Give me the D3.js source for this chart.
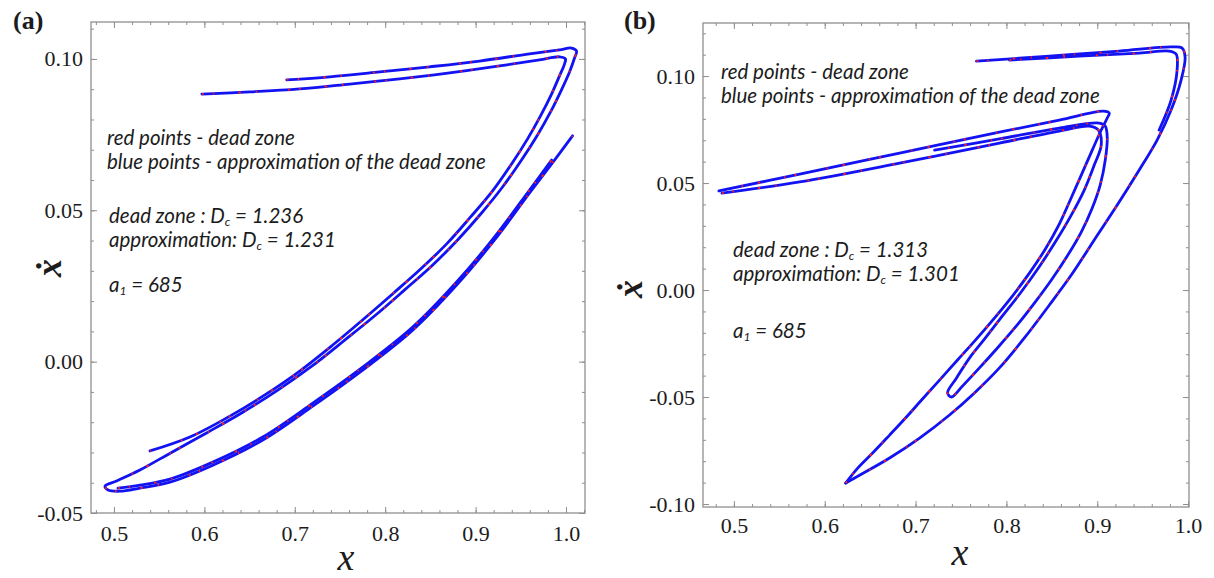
<!DOCTYPE html>
<html>
<head>
<meta charset="utf-8">
<script src="https://cdn.jsdelivr.net/npm/d3@7"></script>
<style>
  body { margin: 0; background: #fff; }
  svg text { fill: #1c1c1c; }
  .tick text { font-family: 'Liberation Serif', serif; font-size: 22px; fill: #1c1c1c; }
  .note { font-family: Lato, sans-serif; font-style: italic; font-size: 20.5px; }
</style>
</head>
<body>
<svg id="chart" width="1214" height="578"></svg>
<script>
// ---------------------------------------------------------------------------
// Data (x, xdot)
// ---------------------------------------------------------------------------

const xTicks = [0.5, 0.6, 0.7, 0.8, 0.9, 1.0];
const yTicksA = [-0.05, 0.00, 0.05, 0.10];
const yTicksB = [-0.10, -0.05, 0.00, 0.05, 0.10];

// panel (a): outer strand, top branch -> fold -> lower branch
const stripA1 = [
  [0.6912, 0.0931], [0.7387, 0.0941], [0.7939, 0.0957], [0.8492, 0.0974], [0.9044, 0.0993],
  [0.9597, 0.1017], [0.9928, 0.1030], [1.0061, 0.1036], [1.0116, 0.1026], [1.0094, 0.1003],
  [1.0039, 0.0957], [0.9950, 0.0898], [0.9829, 0.0825], [0.9685, 0.0749], [0.9508, 0.0666],
  [0.9298, 0.0577], [0.9066, 0.0491], [0.8801, 0.0402], [0.8514, 0.0316], [0.8215, 0.0237],
  [0.7895, 0.0154], [0.7552, 0.0071], [0.7188, -0.0015], [0.6812, -0.0094], [0.6425, -0.0167],
  [0.6039, -0.0233], [0.5641, -0.0299], [0.5287, -0.0358], [0.5022, -0.0395], [0.4901, -0.0411],
  [0.4934, -0.0424], [0.5066, -0.0428], [0.5287, -0.0418], [0.5619, -0.0398], [0.6094, -0.0342],
  [0.6646, -0.0259], [0.7199, -0.0147], [0.7751, -0.0028], [0.8304, 0.0104], [0.8790, 0.0253],
  [0.9210, 0.0402], [0.9597, 0.0557], [0.9873, 0.0666], [1.0072, 0.0746]
];
// panel (a): inner strand, top branch -> thin tail
const stripA2 = [
  [0.5972, 0.0884], [0.6503, 0.0891], [0.7055, 0.0901], [0.7608, 0.0917], [0.8160, 0.0934],
  [0.8713, 0.0954], [0.9265, 0.0977], [0.9707, 0.0997], [0.9928, 0.1007], [0.9994, 0.1000],
  [0.9983, 0.0983], [0.9928, 0.0944], [0.9840, 0.0884], [0.9718, 0.0812], [0.9575, 0.0736],
  [0.9398, 0.0653], [0.9188, 0.0564], [0.8945, 0.0478], [0.8680, 0.0389], [0.8392, 0.0306],
  [0.8094, 0.0227], [0.7762, 0.0141], [0.7420, 0.0055], [0.7055, -0.0031], [0.6669, -0.0110],
  [0.6282, -0.0180], [0.5840, -0.0249], [0.5398, -0.0295]
];
// panel (a): second layer along the lower branch
const stripA3 = [
  [0.5044, -0.0418], [0.5287, -0.0408], [0.5619, -0.0388], [0.6094, -0.0332], [0.6646, -0.0249],
  [0.7199, -0.0137], [0.7751, -0.0018], [0.8304, 0.0114], [0.8790, 0.0263], [0.9210, 0.0412],
  [0.9597, 0.0567], [0.9840, 0.0666]
];

// panel (b): top branch -> right descent -> lower side of the bottom fold
const stripB1 = [
  [0.7670, 0.1070], [0.8473, 0.1093], [0.9242, 0.1117], [0.9813, 0.1136], [0.9934, 0.1131],
  [0.9967, 0.1089], [0.9923, 0.0981], [0.9813, 0.0841], [0.9659, 0.0701], [0.9462, 0.0561],
  [0.9220, 0.0397], [0.8967, 0.0234], [0.8714, 0.0070], [0.8473, -0.0070], [0.8198, -0.0224],
  [0.7923, -0.0364], [0.7648, -0.0481], [0.7374, -0.0584], [0.7044, -0.0692], [0.6714, -0.0785],
  [0.6407, -0.0860], [0.6231, -0.0902]
];
// panel (b): second layer on the top branch / right descent
const stripB5 = [
  [0.8033, 0.1075], [0.8802, 0.1093], [0.9462, 0.1107], [0.9791, 0.1117], [0.9868, 0.1103],
  [0.9879, 0.1028], [0.9813, 0.0888], [0.9681, 0.0748]
];
// panel (b): bottom fold -> upper-left side -> middle branch (upper edge) to the left tip
const stripB2 = [
  [0.6231, -0.0902], [0.6363, -0.0832], [0.6538, -0.0757], [0.6714, -0.0678], [0.6879, -0.0603],
  [0.7066, -0.0514], [0.7264, -0.0421], [0.7462, -0.0327], [0.7659, -0.0234], [0.7868, -0.0131],
  [0.8066, -0.0028], [0.8253, 0.0079], [0.8429, 0.0192], [0.8582, 0.0308], [0.8703, 0.0421],
  [0.8824, 0.0537], [0.8945, 0.0654], [0.9044, 0.0748], [0.9110, 0.0804], [0.9132, 0.0827],
  [0.9066, 0.0836], [0.8582, 0.0794], [0.7923, 0.0738], [0.6824, 0.0640], [0.5725, 0.0542],
  [0.4835, 0.0463]
];
// panel (b): lower edge of the middle branch -> inner fold -> back up -> third layer
const stripB3 = [
  [0.4868, 0.0453], [0.5725, 0.0505], [0.6824, 0.0593], [0.7923, 0.0687], [0.8582, 0.0743],
  [0.8912, 0.0766], [0.9011, 0.0748], [0.9044, 0.0678], [0.8967, 0.0584], [0.8857, 0.0467],
  [0.8714, 0.0350], [0.8538, 0.0224], [0.8352, 0.0103], [0.8154, -0.0014], [0.7956, -0.0121],
  [0.7769, -0.0224], [0.7593, -0.0318], [0.7451, -0.0411], [0.7352, -0.0481], [0.7396, -0.0500],
  [0.7516, -0.0449], [0.7703, -0.0364], [0.7901, -0.0271], [0.8110, -0.0168], [0.8308, -0.0061],
  [0.8495, 0.0047], [0.8670, 0.0159], [0.8824, 0.0271], [0.8945, 0.0383], [0.9033, 0.0491],
  [0.9088, 0.0607], [0.9110, 0.0710], [0.9088, 0.0766], [0.9022, 0.0780], [0.8582, 0.0757],
  [0.7923, 0.0706], [0.7209, 0.0654]
];

// ---------------------------------------------------------------------------
// Config
// ---------------------------------------------------------------------------

const COLORS = {
  blue: '#1212f2',
  red: '#ff2020',
  frame: '#8f8f8f',
};

const panels = [
  {
    tag: '(a)', tagX: 13,
    box: { left: 91, top: 22, right: 585, bottom: 513 },
    xDomain: [0.4746, 1.021], yDomain: [-0.05, 0.1122],
    yTicks: yTicksA, xPad: 12,
    strips: [stripA1, stripA2, stripA3],
    yTitle: [50, 268], xTitle: [346, 570],
    notes: [
      { x: 107, y: 145, parts: [['red points - dead zone']] },
      { x: 107, y: 169, parts: [['blue points - approximation of the dead zone']] },
      { x: 109, y: 223, parts: [['dead zone : D'], ['c', 'sub'], [' = 1.236']] },
      { x: 109, y: 247, parts: [['approximation: D'], ['c', 'sub'], [' = 1.231']] },
      { x: 109, y: 292, parts: [['a'], ['1', 'sub'], [' = 685']] },
    ],
  },
  {
    tag: '(b)', tagX: 624,
    box: { left: 703, top: 23, right: 1189, bottom: 507 },
    xDomain: [0.466, 1.001], yDomain: [-0.1014, 0.1248],
    yTicks: yTicksB, xPad: 10,
    strips: [stripB1, stripB5, stripB2, stripB3],
    yTitle: [631, 289], xTitle: [960, 565],
    notes: [
      { x: 721, y: 79, parts: [['red points - dead zone']] },
      { x: 721, y: 103, parts: [['blue points - approximation of the dead zone']] },
      { x: 733, y: 257, parts: [['dead zone : D'], ['c', 'sub'], [' = 1.313']] },
      { x: 733, y: 281, parts: [['approximation: D'], ['c', 'sub'], [' = 1.301']] },
      { x: 733, y: 338, parts: [['a'], ['1', 'sub'], [' = 685']] },
    ],
  },
];

const svg = d3.select('#chart');

const fmtX = d3.format('.1f');
const fmtY = d => d3.format('.2f')(d).replace('\u2212', '-');

function drawPanel(p) {
  const b = p.box;
  const x = d3.scaleLinear().domain(p.xDomain).range([b.left, b.right]);
  const y = d3.scaleLinear().domain(p.yDomain).range([b.bottom, b.top]);
  const g = svg.append('g');

  const xMinor = d3.range(0.48, 1.021, 0.02).filter(v => v >= p.xDomain[0] && v <= p.xDomain[1]);
  const yMinor = d3.range(-0.10, 0.13, 0.01).filter(v => v >= p.yDomain[0] - 1e-9 && v <= p.yDomain[1]);

  // minor ticks first, then major ticks with labels
  const axes = [
    [d3.axisBottom(x).tickValues(xMinor).tickSize(-3).tickFormat(''), `translate(0,${b.bottom})`],
    [d3.axisBottom(x).tickValues(xTicks).tickSize(-6).tickPadding(p.xPad).tickFormat(fmtX), `translate(0,${b.bottom})`],
    [d3.axisTop(x).tickValues(xMinor).tickSize(-3).tickFormat(''), `translate(0,${b.top})`],
    [d3.axisTop(x).tickValues(xTicks).tickSize(-6).tickFormat(''), `translate(0,${b.top})`],
    [d3.axisLeft(y).tickValues(yMinor).tickSize(-3).tickFormat(''), `translate(${b.left},0)`],
    [d3.axisLeft(y).tickValues(p.yTicks).tickSize(-6).tickPadding(8).tickFormat(fmtY), `translate(${b.left},0)`],
    [d3.axisRight(y).tickValues(yMinor).tickSize(-3).tickFormat(''), `translate(${b.right},0)`],
    [d3.axisRight(y).tickValues(p.yTicks).tickSize(-6).tickFormat(''), `translate(${b.right},0)`],
  ];
  axes.forEach(([axis, tr]) => {
    const a = g.append('g').attr('transform', tr).call(axis);
    a.select('.domain').remove();
    a.selectAll('.tick line').attr('stroke', COLORS.frame).attr('stroke-width', 1);
  });

  g.append('rect')
    .attr('x', b.left).attr('y', b.top)
    .attr('width', b.right - b.left).attr('height', b.bottom - b.top)
    .attr('fill', 'none').attr('stroke', COLORS.frame).attr('stroke-width', 1.3);

  // attractor strands: blue approximation with sparse red dead-zone points on top
  const line = d3.line().x(d => x(d[0])).y(d => y(d[1])).curve(d3.curveCatmullRom.alpha(0.5));
  const curves = g.append('g');
  p.strips.forEach(s => {
    curves.append('path').attr('d', line(s))
      .attr('fill', 'none').attr('stroke', COLORS.blue).attr('stroke-width', 2.8)
      .attr('stroke-linejoin', 'round').attr('stroke-linecap', 'round');
  });
  p.strips.forEach(s => {
    curves.append('path').attr('d', line(s))
      .attr('fill', 'none').attr('stroke', COLORS.red).attr('stroke-width', 1.8)
      .attr('stroke-dasharray', '2 9 1.5 24 2.5 15 1.5 31');
  });

  // annotations
  p.notes.forEach(n => {
    const t = g.append('text').attr('class', 'note').attr('x', n.x).attr('y', n.y);
    n.parts.forEach(([str, kind]) => {
      if (kind === 'sub') {
        t.append('tspan').attr('baseline-shift', '-25%').style('font-size', '12px').text(str);
      } else {
        t.append('tspan').text(str);
      }
    });
  });

  // panel tag
  svg.append('text').attr('x', p.tagX).attr('y', 29)
    .style('font-family', "'Liberation Serif', serif").style('font-weight', 'bold').style('font-size', '26px')
    .text(p.tag);

  // axis titles
  svg.append('text')
    .attr('transform', `translate(${p.yTitle[0]},${p.yTitle[1]}) rotate(-90)`)
    .attr('text-anchor', 'middle').attr('dy', '0.3em')
    .style('font-family', "'Liberation Serif', serif").style('font-style', 'italic')
    .style('font-weight', 'bold').style('font-size', '36px')
    .text('\u1E8B');
  svg.append('text')
    .attr('x', p.xTitle[0]).attr('y', p.xTitle[1]).attr('text-anchor', 'middle')
    .style('font-family', "'Liberation Serif', serif").style('font-style', 'italic').style('font-size', '38px')
    .text('x');
}

panels.forEach(drawPanel);
</script>
</body>
</html>
